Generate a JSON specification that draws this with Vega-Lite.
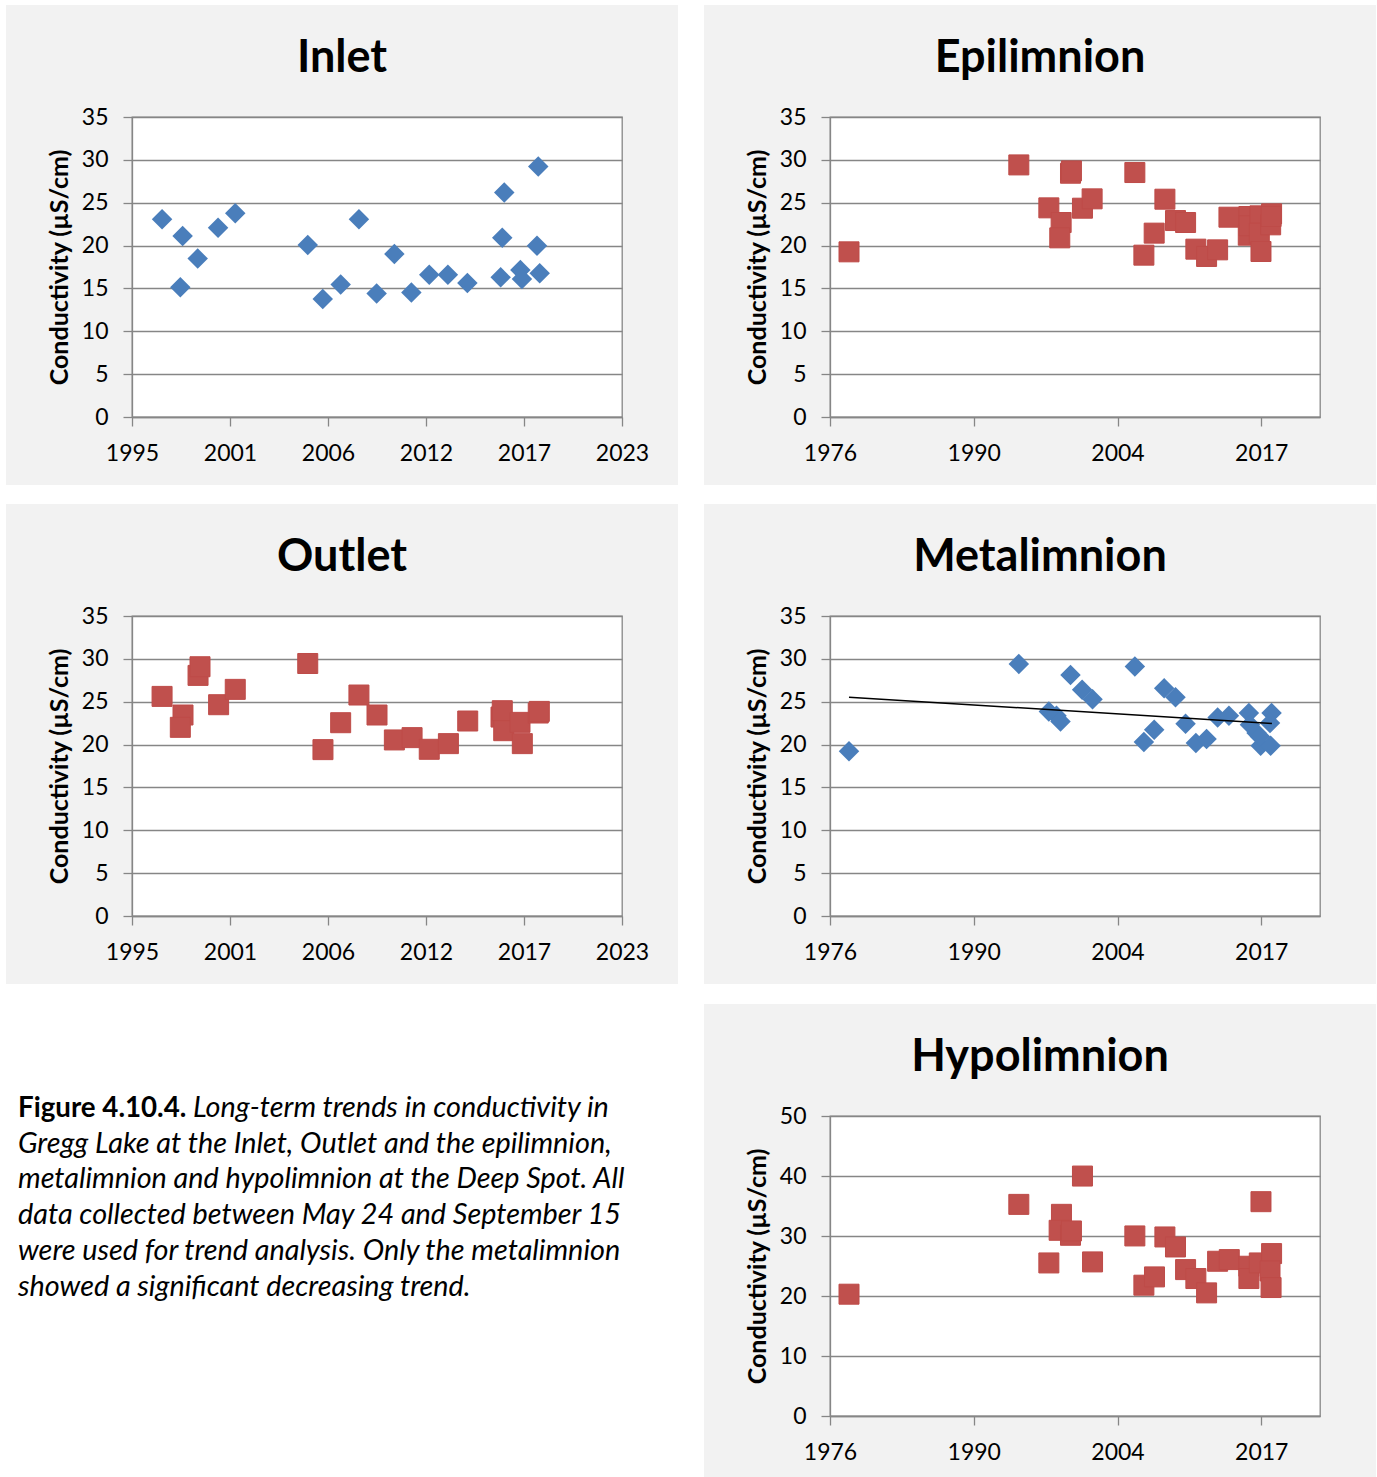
{
  "$schema": "https://vega.github.io/schema/vega-lite/v6.json",
  "background": "#F2F2F2",
  "padding": 0,
  "data": {"values": []},
  "columns": 9,
  "spacing": 0,
  "bounds": "flush",
  "align": "each",
  "config": {
    "view": {"fill": null, "stroke": null},
    "title": {"font": "Lato", "fontSize": 45, "fontWeight": "bold", "color": "#000000", "anchor": "middle", "frame": "group", "dx": -35, "offset": 25, "baseline": "alphabetic"},
    "axis": {"labelFont": "Lato", "labelFontSize": 23, "labelColor": "#000000", "labelFlush": false, "labelOverlap": false, "titleFont": "Lato", "titleFontSize": 25, "titleFontWeight": "bold", "titleColor": "#000000", "domainColor": "#868686", "domainWidth": 1.3, "tickColor": "#868686", "tickWidth": 1.3, "tickSize": 9, "gridColor": "#868686", "gridWidth": 1.3},
    "axisX": {"grid": false, "labelPadding": 16},
    "axisY": {"grid": true, "labelPadding": 15, "titlePadding": 9}
  },
  "datasets": {
    "inlet": [
      {"year": 1997.48, "cond": 23.06}, {"year": 1998.63, "cond": 21.12}, {"year": 1998.50, "cond": 15.14},
      {"year": 1999.47, "cond": 18.48}, {"year": 2000.61, "cond": 22.09}, {"year": 2001.57, "cond": 23.76},
      {"year": 2005.62, "cond": 20.07}, {"year": 2006.46, "cond": 13.78}, {"year": 2007.46, "cond": 15.45},
      {"year": 2008.48, "cond": 23.06}, {"year": 2009.47, "cond": 14.40}, {"year": 2010.46, "cond": 19.02},
      {"year": 2011.41, "cond": 14.52}, {"year": 2012.41, "cond": 16.61}, {"year": 2013.45, "cond": 16.61},
      {"year": 2014.54, "cond": 15.64}, {"year": 2016.40, "cond": 16.30}, {"year": 2016.49, "cond": 20.92},
      {"year": 2016.60, "cond": 26.20}, {"year": 2017.50, "cond": 17.16}, {"year": 2017.59, "cond": 16.11},
      {"year": 2018.43, "cond": 19.99}, {"year": 2018.50, "cond": 29.23}, {"year": 2018.58, "cond": 16.77}
    ],
    "outlet": [
      {"year": 1997.48, "cond": 25.62}, {"year": 1998.65, "cond": 23.45}, {"year": 1998.50, "cond": 22.01},
      {"year": 1999.49, "cond": 28.07}, {"year": 1999.60, "cond": 29.08}, {"year": 2000.64, "cond": 24.65},
      {"year": 2001.57, "cond": 26.44}, {"year": 2005.62, "cond": 29.46}, {"year": 2006.47, "cond": 19.41},
      {"year": 2007.46, "cond": 22.55}, {"year": 2008.48, "cond": 25.78}, {"year": 2009.49, "cond": 23.45},
      {"year": 2010.46, "cond": 20.54}, {"year": 2011.45, "cond": 20.81}, {"year": 2012.41, "cond": 19.45},
      {"year": 2013.48, "cond": 20.11}, {"year": 2014.56, "cond": 22.75}, {"year": 2016.42, "cond": 23.21},
      {"year": 2016.49, "cond": 23.95}, {"year": 2016.57, "cond": 21.62}, {"year": 2017.48, "cond": 22.59},
      {"year": 2017.61, "cond": 20.11}, {"year": 2018.50, "cond": 23.68}, {"year": 2018.56, "cond": 23.87}
    ],
    "epi": [
      {"year": 1978.51, "cond": 19.27}, {"year": 1994.68, "cond": 29.41}, {"year": 1997.54, "cond": 24.40},
      {"year": 1998.71, "cond": 22.69}, {"year": 1998.58, "cond": 20.90}, {"year": 1999.60, "cond": 28.44},
      {"year": 1999.69, "cond": 28.71}, {"year": 2000.74, "cond": 24.36}, {"year": 2001.66, "cond": 25.45},
      {"year": 2005.73, "cond": 28.52}, {"year": 2006.59, "cond": 18.88}, {"year": 2007.57, "cond": 21.45},
      {"year": 2008.59, "cond": 25.41}, {"year": 2009.60, "cond": 22.92}, {"year": 2010.56, "cond": 22.69},
      {"year": 2011.54, "cond": 19.58}, {"year": 2012.56, "cond": 18.73}, {"year": 2013.61, "cond": 19.50},
      {"year": 2014.69, "cond": 23.31}, {"year": 2016.59, "cond": 23.39}, {"year": 2016.53, "cond": 21.21},
      {"year": 2016.62, "cond": 22.30}, {"year": 2017.64, "cond": 23.47}, {"year": 2017.58, "cond": 21.45},
      {"year": 2017.74, "cond": 19.31}, {"year": 2018.66, "cond": 22.42}, {"year": 2018.75, "cond": 23.70},
      {"year": 2018.70, "cond": 23.39}
    ],
    "meta": [
      {"year": 1978.51, "cond": 19.21}, {"year": 1994.68, "cond": 29.41}, {"year": 1997.54, "cond": 23.86},
      {"year": 1998.27, "cond": 23.36}, {"year": 1998.65, "cond": 22.70}, {"year": 1999.60, "cond": 28.13},
      {"year": 2000.71, "cond": 26.39}, {"year": 2001.70, "cond": 25.30}, {"year": 2005.73, "cond": 29.10},
      {"year": 2006.59, "cond": 20.30}, {"year": 2007.57, "cond": 21.73}, {"year": 2008.52, "cond": 26.58},
      {"year": 2009.60, "cond": 25.53}, {"year": 2010.56, "cond": 22.43}, {"year": 2011.54, "cond": 20.18},
      {"year": 2012.56, "cond": 20.64}, {"year": 2013.61, "cond": 23.17}, {"year": 2014.69, "cond": 23.36},
      {"year": 2016.59, "cond": 23.67}, {"year": 2016.69, "cond": 22.31}, {"year": 2017.32, "cond": 21.34},
      {"year": 2017.71, "cond": 19.87}, {"year": 2017.64, "cond": 20.95}, {"year": 2018.66, "cond": 19.87},
      {"year": 2018.75, "cond": 23.67}, {"year": 2018.60, "cond": 22.51}
    ],
    "trend": [
      {"year": 1978.51, "cond": 25.53}, {"year": 2018.78, "cond": 22.47}
    ],
    "hypo": [
      {"year": 1978.51, "cond": 20.30}, {"year": 1994.68, "cond": 35.27}, {"year": 1997.54, "cond": 25.51},
      {"year": 1998.74, "cond": 33.61}, {"year": 1998.52, "cond": 30.95}, {"year": 1999.60, "cond": 30.12},
      {"year": 1999.69, "cond": 30.84}, {"year": 2000.74, "cond": 39.99}, {"year": 2001.70, "cond": 25.68},
      {"year": 2005.73, "cond": 30.01}, {"year": 2006.59, "cond": 21.80}, {"year": 2007.60, "cond": 23.18},
      {"year": 2008.59, "cond": 29.84}, {"year": 2009.60, "cond": 28.17}, {"year": 2010.56, "cond": 24.40},
      {"year": 2011.54, "cond": 22.91}, {"year": 2012.56, "cond": 20.52}, {"year": 2013.61, "cond": 25.79},
      {"year": 2014.72, "cond": 26.07}, {"year": 2016.59, "cond": 24.96}, {"year": 2016.59, "cond": 22.91},
      {"year": 2017.58, "cond": 25.51}, {"year": 2017.74, "cond": 35.72}, {"year": 2018.75, "cond": 27.07},
      {"year": 2018.60, "cond": 24.18}, {"year": 2018.70, "cond": 21.41}
    ],
    "capLead": [{"line": 1, "text": "Figure 4.10.4."}],
    "capFirst": [{"line": 1, "text": "Long-term trends in conductivity in"}],
    "capBody": [
      {"line": 2, "text": "Gregg Lake at the Inlet, Outlet and the epilimnion,"},
      {"line": 3, "text": "metalimnion and hypolimnion at the Deep Spot. All"},
      {"line": 4, "text": "data collected between May 24 and September 15"},
      {"line": 5, "text": "were used for trend analysis. Only the metalimnion"},
      {"line": 6, "text": "showed a significant decreasing trend."}
    ]
  },
  "concat": [
    {"width": 6, "height": 5, "mark": "point", "view": {"fill": "white"}},
    {"width": 126, "height": 5, "mark": "point", "view": {"fill": "white"}},
    {"width": 490, "height": 5, "mark": "point", "view": {"fill": "white"}},
    {"width": 56, "height": 5, "mark": "point", "view": {"fill": "white"}},
    {"width": 26, "height": 5, "mark": "point", "view": {"fill": "white"}},
    {"width": 126, "height": 5, "mark": "point", "view": {"fill": "white"}},
    {"width": 490, "height": 5, "mark": "point", "view": {"fill": "white"}},
    {"width": 56, "height": 5, "mark": "point", "view": {"fill": "white"}},
    {"width": 1, "height": 5, "mark": "point", "view": {"fill": "white"}},

    {"width": 6, "height": 112, "mark": "point", "view": {"fill": "white"}},
    {"width": 1, "height": 1, "mark": "point"},
    {"width": 1, "height": 1, "mark": "point"},
    {"width": 1, "height": 1, "mark": "point"},
    {"width": 26, "height": 112, "mark": "point", "view": {"fill": "white"}},
    {"width": 1, "height": 1, "mark": "point"},
    {"width": 1, "height": 1, "mark": "point"},
    {"width": 1, "height": 1, "mark": "point"},
    {"width": 1, "height": 112, "mark": "point", "view": {"fill": "white"}},

    {"width": 6, "height": 300, "mark": "point", "view": {"fill": "white"}},
    {"width": 1, "height": 1, "mark": "point"},
    {
      "title": {"text": "Inlet"},
      "width": 490, "height": 300,
      "view": {"fill": "white", "stroke": "#868686", "strokeWidth": 1.3},
      "data": {"name": "inlet"},
      "mark": {"type": "point", "shape": "diamond", "filled": true, "size": 420, "fill": "#4A7EBB", "opacity": 1},
      "encoding": {
        "x": {"field": "year", "type": "quantitative", "scale": {"domain": [1995.8, 2023.18], "nice": false, "zero": false},
              "axis": {"values": [1995.8, 2001.276, 2006.752, 2012.228, 2017.704, 2023.18], "labelExpr": "floor(datum.value)", "title": null}},
        "y": {"field": "cond", "type": "quantitative", "scale": {"domain": [0, 35], "nice": false},
              "axis": {"values": [0, 5, 10, 15, 20, 25, 30, 35], "title": "Conductivity (µS/cm)"}}
      }
    },
    {"width": 1, "height": 1, "mark": "point"},
    {"width": 26, "height": 300, "mark": "point", "view": {"fill": "white"}},
    {"width": 1, "height": 1, "mark": "point"},
    {
      "title": {"text": "Epilimnion"},
      "width": 490, "height": 300,
      "view": {"fill": "white", "stroke": "#868686", "strokeWidth": 1.3},
      "data": {"name": "epi"},
      "mark": {"type": "point", "shape": "square", "filled": true, "size": 400, "fill": "#C0504D", "stroke": "#BE4B48", "strokeWidth": 1, "opacity": 1},
      "encoding": {
        "x": {"field": "year", "type": "quantitative", "scale": {"domain": [1976.7, 2023.36], "nice": false, "zero": false},
              "axis": {"values": [1976.7, 1990.389, 2004.078, 2017.767], "labelExpr": "floor(datum.value)", "title": null}},
        "y": {"field": "cond", "type": "quantitative", "scale": {"domain": [0, 35], "nice": false},
              "axis": {"values": [0, 5, 10, 15, 20, 25, 30, 35], "title": "Conductivity (µS/cm)"}}
      }
    },
    {"width": 1, "height": 1, "mark": "point"},
    {"width": 1, "height": 300, "mark": "point", "view": {"fill": "white"}},

    {"width": 6, "height": 68, "mark": "point", "view": {"fill": "white"}},
    {"width": 1, "height": 1, "mark": "point"},
    {"width": 1, "height": 1, "mark": "point"},
    {"width": 1, "height": 1, "mark": "point"},
    {"width": 26, "height": 68, "mark": "point", "view": {"fill": "white"}},
    {"width": 1, "height": 1, "mark": "point"},
    {"width": 1, "height": 1, "mark": "point"},
    {"width": 1, "height": 1, "mark": "point"},
    {"width": 1, "height": 68, "mark": "point", "view": {"fill": "white"}},

    {"width": 6, "height": 19, "mark": "point", "view": {"fill": "white"}},
    {"width": 126, "height": 19, "mark": "point", "view": {"fill": "white"}},
    {"width": 490, "height": 19, "mark": "point", "view": {"fill": "white"}},
    {"width": 56, "height": 19, "mark": "point", "view": {"fill": "white"}},
    {"width": 26, "height": 19, "mark": "point", "view": {"fill": "white"}},
    {"width": 126, "height": 19, "mark": "point", "view": {"fill": "white"}},
    {"width": 490, "height": 19, "mark": "point", "view": {"fill": "white"}},
    {"width": 56, "height": 19, "mark": "point", "view": {"fill": "white"}},
    {"width": 1, "height": 19, "mark": "point", "view": {"fill": "white"}},

    {"width": 6, "height": 112, "mark": "point", "view": {"fill": "white"}},
    {"width": 1, "height": 1, "mark": "point"},
    {"width": 1, "height": 1, "mark": "point"},
    {"width": 1, "height": 1, "mark": "point"},
    {"width": 26, "height": 112, "mark": "point", "view": {"fill": "white"}},
    {"width": 1, "height": 1, "mark": "point"},
    {"width": 1, "height": 1, "mark": "point"},
    {"width": 1, "height": 1, "mark": "point"},
    {"width": 1, "height": 112, "mark": "point", "view": {"fill": "white"}},

    {"width": 6, "height": 300, "mark": "point", "view": {"fill": "white"}},
    {"width": 1, "height": 1, "mark": "point"},
    {
      "title": {"text": "Outlet"},
      "width": 490, "height": 300,
      "view": {"fill": "white", "stroke": "#868686", "strokeWidth": 1.3},
      "data": {"name": "outlet"},
      "mark": {"type": "point", "shape": "square", "filled": true, "size": 400, "fill": "#C0504D", "stroke": "#BE4B48", "strokeWidth": 1, "opacity": 1},
      "encoding": {
        "x": {"field": "year", "type": "quantitative", "scale": {"domain": [1995.8, 2023.18], "nice": false, "zero": false},
              "axis": {"values": [1995.8, 2001.276, 2006.752, 2012.228, 2017.704, 2023.18], "labelExpr": "floor(datum.value)", "title": null}},
        "y": {"field": "cond", "type": "quantitative", "scale": {"domain": [0, 35], "nice": false},
              "axis": {"values": [0, 5, 10, 15, 20, 25, 30, 35], "title": "Conductivity (µS/cm)"}}
      }
    },
    {"width": 1, "height": 1, "mark": "point"},
    {"width": 26, "height": 300, "mark": "point", "view": {"fill": "white"}},
    {"width": 1, "height": 1, "mark": "point"},
    {
      "title": {"text": "Metalimnion"},
      "width": 490, "height": 300,
      "view": {"fill": "white", "stroke": "#868686", "strokeWidth": 1.3},
      "layer": [
        {
          "data": {"name": "meta"},
          "mark": {"type": "point", "shape": "diamond", "filled": true, "size": 420, "fill": "#4A7EBB", "opacity": 1},
          "encoding": {
            "x": {"field": "year", "type": "quantitative", "scale": {"domain": [1976.7, 2023.36], "nice": false, "zero": false},
                  "axis": {"values": [1976.7, 1990.389, 2004.078, 2017.767], "labelExpr": "floor(datum.value)", "title": null}},
            "y": {"field": "cond", "type": "quantitative", "scale": {"domain": [0, 35], "nice": false},
                  "axis": {"values": [0, 5, 10, 15, 20, 25, 30, 35], "title": "Conductivity (µS/cm)"}}
          }
        },
        {
          "data": {"name": "trend"},
          "mark": {"type": "line", "color": "#000000", "strokeWidth": 1.5},
          "encoding": {
            "x": {"field": "year", "type": "quantitative"},
            "y": {"field": "cond", "type": "quantitative"}
          }
        }
      ]
    },
    {"width": 1, "height": 1, "mark": "point"},
    {"width": 1, "height": 300, "mark": "point", "view": {"fill": "white"}},

    {"width": 6, "height": 68, "mark": "point", "view": {"fill": "white"}},
    {"width": 1, "height": 1, "mark": "point"},
    {"width": 1, "height": 1, "mark": "point"},
    {"width": 1, "height": 1, "mark": "point"},
    {"width": 26, "height": 68, "mark": "point", "view": {"fill": "white"}},
    {"width": 1, "height": 1, "mark": "point"},
    {"width": 1, "height": 1, "mark": "point"},
    {"width": 1, "height": 1, "mark": "point"},
    {"width": 1, "height": 68, "mark": "point", "view": {"fill": "white"}},

    {"width": 6, "height": 20, "mark": "point", "view": {"fill": "white"}},
    {"width": 126, "height": 20, "mark": "point", "view": {"fill": "white"}},
    {"width": 490, "height": 20, "mark": "point", "view": {"fill": "white"}},
    {"width": 56, "height": 20, "mark": "point", "view": {"fill": "white"}},
    {"width": 26, "height": 20, "mark": "point", "view": {"fill": "white"}},
    {"width": 126, "height": 20, "mark": "point", "view": {"fill": "white"}},
    {"width": 490, "height": 20, "mark": "point", "view": {"fill": "white"}},
    {"width": 56, "height": 20, "mark": "point", "view": {"fill": "white"}},
    {"width": 1, "height": 20, "mark": "point", "view": {"fill": "white"}},

    {"width": 6, "height": 112, "mark": "point", "view": {"fill": "white"}},
    {"width": 126, "height": 112, "mark": "point", "view": {"fill": "white"}},
    {"width": 490, "height": 112, "mark": "point", "view": {"fill": "white"}},
    {"width": 56, "height": 112, "mark": "point", "view": {"fill": "white"}},
    {"width": 26, "height": 112, "mark": "point", "view": {"fill": "white"}},
    {"width": 1, "height": 1, "mark": "point"},
    {"width": 1, "height": 1, "mark": "point"},
    {"width": 1, "height": 1, "mark": "point"},
    {"width": 1, "height": 112, "mark": "point", "view": {"fill": "white"}},

    {"width": 6, "height": 300, "mark": "point", "view": {"fill": "white"}},
    {"width": 126, "height": 300, "mark": "point", "view": {"fill": "white"}},
    {"width": 490, "height": 300, "mark": "point", "view": {"fill": "white"}},
    {
      "width": 56, "height": 300,
      "view": {"fill": "white"},
      "layer": [
        {
          "data": {"name": "capLead"},
          "mark": {"type": "text", "align": "left", "baseline": "alphabetic", "font": "Lato", "fontSize": 27.7, "fontWeight": "bold", "color": "#000000"},
          "encoding": {
            "x": {"datum": 0, "type": "quantitative", "scale": {"domain": [0, 1], "range": [-604, 0]}, "axis": null},
            "y": {"field": "line", "type": "quantitative", "scale": {"domain": [1, 6], "range": [0.7, 180]}, "axis": null},
            "text": {"field": "text"}
          }
        },
        {
          "data": {"name": "capFirst"},
          "mark": {"type": "text", "align": "left", "baseline": "alphabetic", "font": "Lato", "fontSize": 28.8, "fontStyle": "italic", "color": "#000000", "dx": 175},
          "encoding": {
            "x": {"datum": 0, "type": "quantitative"},
            "y": {"field": "line", "type": "quantitative"},
            "text": {"field": "text"}
          }
        },
        {
          "data": {"name": "capBody"},
          "mark": {"type": "text", "align": "left", "baseline": "alphabetic", "font": "Lato", "fontSize": 28.8, "fontStyle": "italic", "color": "#000000"},
          "encoding": {
            "x": {"datum": 0, "type": "quantitative"},
            "y": {"field": "line", "type": "quantitative"},
            "text": {"field": "text"}
          }
        }
      ]
    },
    {"width": 26, "height": 300, "mark": "point", "view": {"fill": "white"}},
    {"width": 1, "height": 1, "mark": "point"},
    {
      "title": {"text": "Hypolimnion"},
      "width": 490, "height": 300,
      "view": {"fill": "white", "stroke": "#868686", "strokeWidth": 1.3},
      "data": {"name": "hypo"},
      "mark": {"type": "point", "shape": "square", "filled": true, "size": 400, "fill": "#C0504D", "stroke": "#BE4B48", "strokeWidth": 1, "opacity": 1},
      "encoding": {
        "x": {"field": "year", "type": "quantitative", "scale": {"domain": [1976.7, 2023.36], "nice": false, "zero": false},
              "axis": {"values": [1976.7, 1990.389, 2004.078, 2017.767], "labelExpr": "floor(datum.value)", "title": null}},
        "y": {"field": "cond", "type": "quantitative", "scale": {"domain": [0, 50], "nice": false},
              "axis": {"values": [0, 10, 20, 30, 40, 50], "title": "Conductivity (µS/cm)"}}
      }
    },
    {"width": 1, "height": 1, "mark": "point"},
    {"width": 1, "height": 300, "mark": "point", "view": {"fill": "white"}},

    {"width": 6, "height": 68, "mark": "point", "view": {"fill": "white"}},
    {"width": 126, "height": 68, "mark": "point", "view": {"fill": "white"}},
    {"width": 490, "height": 68, "mark": "point", "view": {"fill": "white"}},
    {"width": 56, "height": 68, "mark": "point", "view": {"fill": "white"}},
    {"width": 26, "height": 68, "mark": "point", "view": {"fill": "white"}},
    {"width": 1, "height": 1, "mark": "point"},
    {"width": 1, "height": 1, "mark": "point"},
    {"width": 1, "height": 1, "mark": "point"},
    {"width": 1, "height": 68, "mark": "point", "view": {"fill": "white"}}
  ]
}
